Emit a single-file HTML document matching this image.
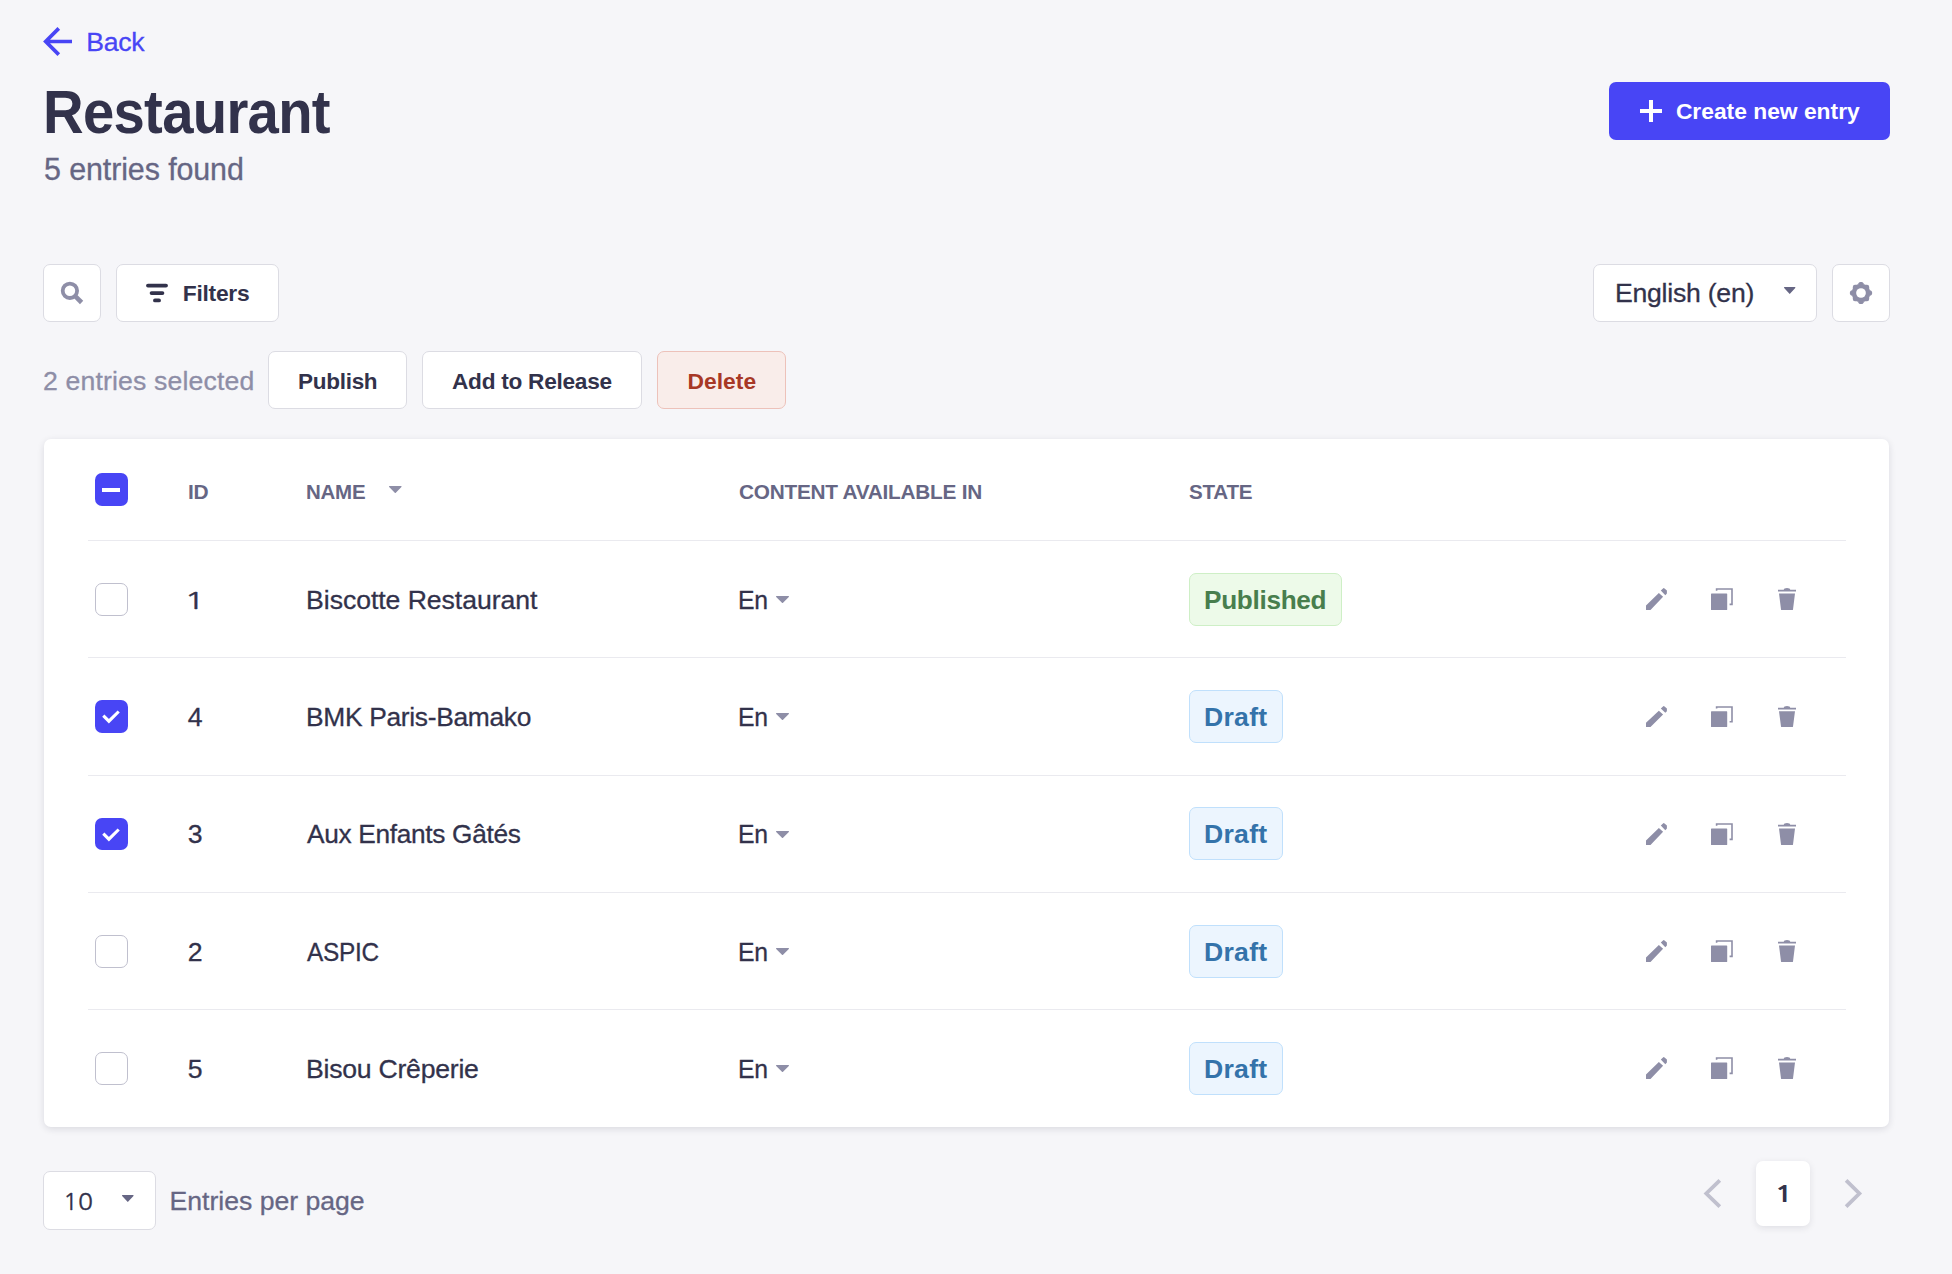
<!DOCTYPE html>
<html lang="en">
<head>
<meta charset="utf-8">
<title>Restaurant</title>
<style>
*{box-sizing:border-box;margin:0;padding:0}
html,body{width:1952px;height:1274px;overflow:hidden;background:#f6f6f9}
body{position:relative;font-family:"Liberation Sans",sans-serif}
.t{position:absolute;transform-origin:0 0;white-space:pre;line-height:1;font-family:"Liberation Sans",sans-serif}
.b{position:absolute;border:1px solid #dcdce3;background:#fff;border-radius:7px}
.a{position:absolute}
svg{position:absolute;overflow:visible}
.card{position:absolute;left:44px;top:439px;width:1845px;height:688px;background:#fff;border-radius:7px;box-shadow:0 2px 7px rgba(33,33,52,.13)}
.hr{position:absolute;left:88px;width:1758px;height:1px;background:#eaeaef}
.cb{position:absolute;left:95px;width:33px;height:33px;border-radius:7px;border:1.8px solid #c0c0ce;background:#fff}
.cb.on{border:0;background:#4845f5}
.r{-webkit-text-stroke:.3px}

</style>
</head>
<body>
<!-- back arrow -->
<svg style="left:0;top:0" width="1952" height="1274" viewBox="0 0 1952 1274">
  <g fill="none" stroke="#4845f5" stroke-width="3.7">
    <path d="M72 41.500H46.500M58.800 28.400 45.700 41.500l13.100 13.100"/>
  </g>
</svg>

<!-- create button -->
<div class="a" style="left:1609px;top:82px;width:281px;height:58px;background:#4845f5;border-radius:7px"></div>
<svg style="left:1640px;top:100px" width="22" height="22" viewBox="0 0 22 22"><path d="M0 11h22M11 0v22" stroke="#fff" stroke-width="4" fill="none"/></svg>

<!-- search + filters -->
<div class="b" style="left:43px;top:264px;width:58px;height:58px"></div>
<svg style="left:56px;top:277px" width="32" height="32" viewBox="56 277 32 32"><circle cx="69.9" cy="290.8" r="7.2" fill="none" stroke="#8e8ea7" stroke-width="3.8"/><path d="M75.2 296.1 81.6 302.5" stroke="#8e8ea7" stroke-width="4.6" fill="none"/></svg>
<div class="b" style="left:116px;top:264px;width:163px;height:58px"></div>
<svg style="left:140px;top:280px" width="32" height="28" viewBox="140 280 32 28"><path d="M148 285.6h18M151.6 293.1h10.8M155 300.4h4" stroke="#32324b" stroke-width="3.9" stroke-linecap="round" fill="none"/></svg>

<!-- locale select + settings -->
<div class="b" style="left:1593px;top:264px;width:224px;height:58px"></div>
<svg style="left:1783.7px;top:287.2px" width="11.4" height="6.9" viewBox="0 0 12 7.5" preserveAspectRatio="none"><path d="M.6 0h10.8a.6.6 0 0 1 .45 1L6.5 7.2a.66.66 0 0 1-1 0L.15 1A.6.6 0 0 1 .6 0z" fill="#666684"/></svg>
<div class="b" style="left:1832px;top:264px;width:58px;height:58px"></div>
<svg style="left:1850px;top:281.85px" width="22" height="22" viewBox="-11 -11 22 22"><g fill="#8e8ea7"><rect x="-8.2" y="-8.2" width="16.4" height="16.4" rx="2.2"/><rect x="-2.5" y="-11.1" width="5" height="6" rx="1.9" transform="rotate(0)"/><rect x="-2.5" y="-11.1" width="5" height="6" rx="1.9" transform="rotate(90)"/><rect x="-2.5" y="-11.1" width="5" height="6" rx="1.9" transform="rotate(180)"/><rect x="-2.5" y="-11.1" width="5" height="6" rx="1.9" transform="rotate(270)"/><path d="M-4.2-8.2-2.500-9.400h5L4.200-8.200zM-4.200 8.200-2.500 9.400h5L4.200 8.200zM-8.200-4.200-9.400-2.500v5L-8.200 4.200zM8.200-4.200 9.400-2.500v5L8.200 4.200z"/></g><circle r="4.85" fill="#fff"/></svg>

<!-- bulk action buttons -->
<div class="b" style="left:268px;top:351px;width:139px;height:58px"></div>
<div class="b" style="left:422px;top:351px;width:220px;height:58px"></div>
<div class="b" style="left:657px;top:351px;width:129px;height:58px;background:#f9edea;border-color:#edc2ba"></div>

<!-- table card -->
<div class="card"></div>
<div class="hr" style="top:540px"></div>
<div class="hr" style="top:657px"></div>
<div class="hr" style="top:775px"></div>
<div class="hr" style="top:892px"></div>
<div class="hr" style="top:1009px"></div>

<!-- header checkbox (indeterminate) -->
<div class="cb on" style="top:473px"></div>
<div class="a" style="left:102px;top:488px;width:18px;height:4px;background:#fff"></div>
<!-- header sort caret -->
<svg style="left:388.7px;top:486.2px" width="12.6" height="7" viewBox="0 0 12 7.5" preserveAspectRatio="none"><path d="M.6 0h10.8a.6.6 0 0 1 .45 1L6.5 7.2a.66.66 0 0 1-1 0L.15 1A.6.6 0 0 1 .6 0z" fill="#8e8ea7"/></svg>

<div class="cb" style="top:583.0px"></div>
<svg style="left:776px;top:596.05px" width="13" height="7" viewBox="0 0 12 7.5" preserveAspectRatio="none"><path d="M.6 0h10.800a.6.600 0 0 1 .450 1L6.500 7.200a.660.660 0 0 1-1 0L.150 1A.6.600 0 0 1 .6 0z" fill="#8e8ea7"/></svg>
<div class="b" style="left:1189px;top:573.0px;width:153px;height:53px;background:#edfae9;border-color:#ceefc6"></div>
<svg style="left:1646px;top:587.8px" width="21" height="22" viewBox="0 0 21 22"><path fill="#8e8ea7" d="M0 22V17.450L12.850 4.950 17.100 8.850 4.500 22zM14.800 2.500 17.300.150a.7.700 0 0 1 .9 0L20.900 2.600V5.400L19.300 7.200z"/></svg>
<svg style="left:1711px;top:588.0px" width="22" height="22" viewBox="0 0 22 22"><path fill="#8e8ea7" d="M.6 5.400h15a.6.600 0 0 1 .6.600v15.400a.6.600 0 0 1-.6.600H.6a.6.600 0 0 1-.6-.6V6a.6.600 0 0 1 .6-.6z"/><path fill="none" stroke="#8e8ea7" stroke-width="1.600" d="M5.600 2.700V1h15.400v15.400h-2.400"/></svg>
<svg style="left:1778px;top:588.0px" width="18" height="22" viewBox="0 0 18 22"><path fill="#8e8ea7" d="M0 1.800h5.800a3.200 1.800 0 0 1 6.400 0H18v1.800H0zM1 5.400h16L15 21.400a.7.700 0 0 1-.7.600H3.700a.7.700 0 0 1-.7-.6z"/></svg>
<div class="cb on" style="top:700.0px"></div>
<svg style="left:95px;top:700.0px" width="33" height="33" viewBox="0 0 33 33"><path d="M8.300 15.600 13.900 21.200 23.700 11.500" fill="none" stroke="#fff" stroke-width="3.100"/></svg>
<svg style="left:776px;top:713.05px" width="13" height="7" viewBox="0 0 12 7.5" preserveAspectRatio="none"><path d="M.6 0h10.800a.6.600 0 0 1 .450 1L6.500 7.200a.660.660 0 0 1-1 0L.150 1A.6.600 0 0 1 .6 0z" fill="#8e8ea7"/></svg>
<div class="b" style="left:1189px;top:690.0px;width:94px;height:53px;background:#ecf5fe;border-color:#c0e0fc"></div>
<svg style="left:1646px;top:705.9px" width="21" height="21" preserveAspectRatio="none" viewBox="0 0 21 22"><path fill="#8e8ea7" d="M0 22V17.450L12.850 4.950 17.100 8.850 4.500 22zM14.800 2.500 17.300.150a.7.700 0 0 1 .9 0L20.900 2.600V5.400L19.300 7.200z"/></svg>
<svg style="left:1711px;top:705.9px" width="22" height="21" preserveAspectRatio="none" viewBox="0 0 22 22"><path fill="#8e8ea7" d="M.6 5.400h15a.6.600 0 0 1 .6.600v15.400a.6.600 0 0 1-.6.600H.6a.6.600 0 0 1-.6-.6V6a.6.600 0 0 1 .6-.6z"/><path fill="none" stroke="#8e8ea7" stroke-width="1.600" d="M5.600 2.700V1h15.400v15.400h-2.400"/></svg>
<svg style="left:1778px;top:705.9px" width="18" height="21" preserveAspectRatio="none" viewBox="0 0 18 22"><path fill="#8e8ea7" d="M0 1.800h5.800a3.200 1.800 0 0 1 6.400 0H18v1.800H0zM1 5.400h16L15 21.400a.7.700 0 0 1-.7.600H3.700a.7.700 0 0 1-.7-.6z"/></svg>
<div class="cb on" style="top:818px;height:32px"></div>
<svg style="left:95px;top:817.5px" width="33" height="33" viewBox="0 0 33 33"><path d="M8.300 15.600 13.900 21.200 23.700 11.500" fill="none" stroke="#fff" stroke-width="3.100"/></svg>
<svg style="left:776px;top:830.55px" width="13" height="7" viewBox="0 0 12 7.5" preserveAspectRatio="none"><path d="M.6 0h10.800a.6.600 0 0 1 .450 1L6.500 7.200a.660.660 0 0 1-1 0L.150 1A.6.600 0 0 1 .6 0z" fill="#8e8ea7"/></svg>
<div class="b" style="left:1189px;top:807px;width:94px;height:53px;background:#ecf5fe;border-color:#c0e0fc"></div>
<svg style="left:1646px;top:822.9px" width="21" height="22" viewBox="0 0 21 22"><path fill="#8e8ea7" d="M0 22V17.450L12.850 4.950 17.100 8.850 4.500 22zM14.800 2.500 17.300.150a.7.700 0 0 1 .9 0L20.900 2.600V5.400L19.300 7.200z"/></svg>
<svg style="left:1711px;top:822.9px" width="22" height="22" viewBox="0 0 22 22"><path fill="#8e8ea7" d="M.6 5.400h15a.6.600 0 0 1 .6.600v15.400a.6.600 0 0 1-.6.600H.6a.6.600 0 0 1-.6-.6V6a.6.600 0 0 1 .6-.6z"/><path fill="none" stroke="#8e8ea7" stroke-width="1.600" d="M5.600 2.700V1h15.400v15.400h-2.400"/></svg>
<svg style="left:1778px;top:822.9px" width="18" height="22" viewBox="0 0 18 22"><path fill="#8e8ea7" d="M0 1.800h5.800a3.200 1.800 0 0 1 6.400 0H18v1.800H0zM1 5.400h16L15 21.400a.7.700 0 0 1-.7.600H3.700a.7.700 0 0 1-.7-.6z"/></svg>
<div class="cb" style="top:935px"></div>
<svg style="left:776px;top:948.05px" width="13" height="7" viewBox="0 0 12 7.5" preserveAspectRatio="none"><path d="M.6 0h10.800a.6.600 0 0 1 .450 1L6.500 7.200a.660.660 0 0 1-1 0L.150 1A.6.600 0 0 1 .6 0z" fill="#8e8ea7"/></svg>
<div class="b" style="left:1189px;top:925px;width:94px;height:53px;background:#ecf5fe;border-color:#c0e0fc"></div>
<svg style="left:1646px;top:939.8px" width="21" height="22" viewBox="0 0 21 22"><path fill="#8e8ea7" d="M0 22V17.450L12.850 4.950 17.100 8.850 4.500 22zM14.800 2.500 17.300.150a.7.700 0 0 1 .9 0L20.900 2.600V5.400L19.300 7.200z"/></svg>
<svg style="left:1711px;top:940px" width="22" height="22" viewBox="0 0 22 22"><path fill="#8e8ea7" d="M.6 5.400h15a.6.600 0 0 1 .6.600v15.400a.6.600 0 0 1-.6.600H.6a.6.600 0 0 1-.6-.6V6a.6.600 0 0 1 .6-.6z"/><path fill="none" stroke="#8e8ea7" stroke-width="1.600" d="M5.600 2.700V1h15.400v15.400h-2.400"/></svg>
<svg style="left:1778px;top:940px" width="18" height="22" viewBox="0 0 18 22"><path fill="#8e8ea7" d="M0 1.800h5.800a3.200 1.800 0 0 1 6.400 0H18v1.800H0zM1 5.400h16L15 21.400a.7.700 0 0 1-.7.600H3.700a.7.700 0 0 1-.7-.6z"/></svg>
<div class="cb" style="top:1052px"></div>
<svg style="left:776px;top:1065.05px" width="13" height="7" viewBox="0 0 12 7.5" preserveAspectRatio="none"><path d="M.6 0h10.800a.6.600 0 0 1 .450 1L6.500 7.200a.660.660 0 0 1-1 0L.150 1A.6.600 0 0 1 .6 0z" fill="#8e8ea7"/></svg>
<div class="b" style="left:1189px;top:1042px;width:94px;height:53px;background:#ecf5fe;border-color:#c0e0fc"></div>
<svg style="left:1646px;top:1056.8px" width="21" height="22" viewBox="0 0 21 22"><path fill="#8e8ea7" d="M0 22V17.450L12.850 4.950 17.100 8.850 4.500 22zM14.800 2.500 17.300.150a.7.700 0 0 1 .9 0L20.900 2.600V5.400L19.300 7.200z"/></svg>
<svg style="left:1711px;top:1057px" width="22" height="22" viewBox="0 0 22 22"><path fill="#8e8ea7" d="M.6 5.400h15a.6.600 0 0 1 .6.600v15.400a.6.600 0 0 1-.6.600H.6a.6.600 0 0 1-.6-.6V6a.6.600 0 0 1 .6-.6z"/><path fill="none" stroke="#8e8ea7" stroke-width="1.600" d="M5.600 2.700V1h15.400v15.400h-2.400"/></svg>
<svg style="left:1778px;top:1057px" width="18" height="22" viewBox="0 0 18 22"><path fill="#8e8ea7" d="M0 1.800h5.800a3.200 1.800 0 0 1 6.400 0H18v1.800H0zM1 5.400h16L15 21.400a.7.700 0 0 1-.7.600H3.700a.7.700 0 0 1-.7-.6z"/></svg>

<!-- footer -->
<div class="b" style="left:43px;top:1171px;width:113px;height:58.5px"></div>
<svg style="left:121.9px;top:1195.2px" width="11.6" height="6.9" viewBox="0 0 12 7.5" preserveAspectRatio="none"><path d="M.6 0h10.8a.6.6 0 0 1 .45 1L6.5 7.2a.66.66 0 0 1-1 0L.15 1A.6.6 0 0 1 .6 0z" fill="#666684"/></svg>
<svg style="left:1700px;top:1175px" width="26" height="38" viewBox="1700 1175 26 38"><path d="M1719.800 1180.300 1706.300 1193.500l13.500 13.200" fill="none" stroke="#c0c0ce" stroke-width="3.800"/></svg>
<div class="a" style="left:1756px;top:1161px;width:54px;height:65px;background:#fff;border-radius:7px;box-shadow:0 2px 7px rgba(33,33,52,.1)"></div>
<svg style="left:1840px;top:1175px" width="26" height="38" viewBox="1840 1175 26 38"><path d="M1846.100 1180.300 1859.400 1193.500l-13.300 13.200" fill="none" stroke="#c0c0ce" stroke-width="3.800"/></svg>

<span class="t r" id="back" style="left:86.25px;top:28.60px;font-size:26.64px;font-weight:400;color:#4845f5;letter-spacing:-0.32px">Back</span>
<span class="t" id="title" style="left:43.11px;top:82.10px;font-size:60.88px;font-weight:700;color:#32324b;letter-spacing:-0.731px;transform:scaleX(0.9235)">Restaurant</span>
<span class="t r" id="sub" style="left:44.00px;top:154.00px;font-size:30.44px;font-weight:400;color:#666684;letter-spacing:-0.107px">5 entries found</span>
<span class="t" id="filters" style="left:182.75px;top:281.75px;font-size:22.83px;font-weight:700;color:#32324b;letter-spacing:-0.274px">Filters</span>
<span class="t" id="create" style="left:1675.90px;top:100.40px;font-size:22.83px;font-weight:700;color:#ffffff;letter-spacing:-0.01px">Create new entry</span>
<span class="t r" id="locale" style="left:1615.00px;top:280.00px;font-size:26.64px;font-weight:400;color:#32324b;letter-spacing:-0.25px">English (en)</span>
<span class="t r" id="sel" style="left:43.10px;top:368.00px;font-size:26.64px;font-weight:400;color:#8e8ea7;letter-spacing:0.147px">2 entries selected</span>
<span class="t" id="publish" style="left:298.41px;top:369.75px;font-size:22.83px;font-weight:700;color:#32324b;letter-spacing:-0.274px;transform:scaleX(0.9853)">Publish</span>
<span class="t" id="addrel" style="left:451.51px;top:369.75px;font-size:22.83px;font-weight:700;color:#32324b;letter-spacing:-0.274px;transform:scaleX(0.9922)">Add to Release</span>
<span class="t" id="delete" style="left:687.50px;top:369.75px;font-size:22.83px;font-weight:700;color:#a83826;letter-spacing:0.02px">Delete</span>
<span class="t" id="h_id" style="left:188.00px;top:482.00px;font-size:20.93px;font-weight:700;color:#666684;letter-spacing:-0.251px">ID</span>
<span class="t" id="h_name" style="left:306.27px;top:482.00px;font-size:20.93px;font-weight:700;color:#666684;letter-spacing:-0.251px;transform:scaleX(0.9788)">NAME</span>
<span class="t" id="h_cont" style="left:738.51px;top:482.00px;font-size:20.93px;font-weight:700;color:#666684;letter-spacing:-0.251px;transform:scaleX(0.9938)">CONTENT AVAILABLE IN</span>
<span class="t" id="h_state" style="left:1188.52px;top:482.00px;font-size:20.93px;font-weight:700;color:#666684;letter-spacing:-0.251px;transform:scaleX(0.9841)">STATE</span>
<span class="t" id="ten" style="left:63.14px;top:1190.00px;font-size:23.47px;font-weight:400;color:#32324b;transform:scaleX(1.0542);-webkit-text-stroke:0.3px #32324b;font-family:NanumGothic,'Liberation Sans',sans-serif">10</span>
<span class="t r" id="epp" style="left:169.50px;top:1188.00px;font-size:26.64px;font-weight:400;color:#666684;letter-spacing:-0.017px">Entries per page</span>
<span class="t" id="pg1" style="left:1773.60px;top:1184.10px;font-size:21.76px;font-weight:700;color:#32324b;transform:scaleX(1.5000);font-family:NanumGothic,'Liberation Sans',sans-serif">1</span>
<span class="t r" id="r0id" style="left:184.25px;top:589.00px;font-size:23.73px;font-weight:400;color:#32324b;transform:scaleX(1.5000);font-family:NanumGothic,'Liberation Sans',sans-serif">1</span>
<span class="t r" id="r0nm" style="left:306.10px;top:587.00px;font-size:26.64px;font-weight:400;color:#32324b;letter-spacing:-0.061px">Biscotte Restaurant</span>
<span class="t r" id="r0en" style="left:738.14px;top:587.00px;font-size:26.64px;font-weight:400;color:#32324b;letter-spacing:-0.32px;transform:scaleX(0.9310)">En</span>
<span class="t" id="r0st" style="left:1204.03px;top:587.00px;font-size:26.64px;font-weight:700;color:#487e4d;letter-spacing:-0.32px;transform:scaleX(0.9835)">Published</span>
<span class="t r" id="r1id" style="left:187.75px;top:704.00px;font-size:26.64px;font-weight:400;color:#32324b">4</span>
<span class="t r" id="r1nm" style="left:306.12px;top:704.00px;font-size:26.64px;font-weight:400;color:#32324b;letter-spacing:-0.32px;transform:scaleX(0.9906)">BMK Paris-Bamako</span>
<span class="t r" id="r1en" style="left:738.14px;top:704.00px;font-size:26.64px;font-weight:400;color:#32324b;letter-spacing:-0.32px;transform:scaleX(0.9310)">En</span>
<span class="t" id="r1st" style="left:1204.00px;top:704.00px;font-size:26.64px;font-weight:700;color:#3473aa;letter-spacing:0.25px">Draft</span>
<span class="t r" id="r2id" style="left:187.75px;top:821.30px;font-size:26.64px;font-weight:400;color:#32324b">3</span>
<span class="t r" id="r2nm" style="left:307.25px;top:821.30px;font-size:26.64px;font-weight:400;color:#32324b;letter-spacing:-0.32px;transform:scaleX(0.9861)">Aux Enfants Gâtés</span>
<span class="t r" id="r2en" style="left:738.14px;top:821.30px;font-size:26.64px;font-weight:400;color:#32324b;letter-spacing:-0.32px;transform:scaleX(0.9310)">En</span>
<span class="t" id="r2st" style="left:1204.00px;top:821.30px;font-size:26.64px;font-weight:700;color:#3473aa;letter-spacing:0.25px">Draft</span>
<span class="t r" id="r3id" style="left:187.75px;top:939.00px;font-size:26.64px;font-weight:400;color:#32324b">2</span>
<span class="t r" id="r3nm" style="left:306.90px;top:939.00px;font-size:26.64px;font-weight:400;color:#32324b;letter-spacing:-0.32px;transform:scaleX(0.9156)">ASPIC</span>
<span class="t r" id="r3en" style="left:738.14px;top:939.00px;font-size:26.64px;font-weight:400;color:#32324b;letter-spacing:-0.32px;transform:scaleX(0.9310)">En</span>
<span class="t" id="r3st" style="left:1204.00px;top:939.00px;font-size:26.64px;font-weight:700;color:#3473aa;letter-spacing:0.25px">Draft</span>
<span class="t r" id="r4id" style="left:187.75px;top:1056.00px;font-size:26.64px;font-weight:400;color:#32324b">5</span>
<span class="t r" id="r4nm" style="left:306.10px;top:1056.00px;font-size:26.64px;font-weight:400;color:#32324b;letter-spacing:-0.258px">Bisou Crêperie</span>
<span class="t r" id="r4en" style="left:738.14px;top:1056.00px;font-size:26.64px;font-weight:400;color:#32324b;letter-spacing:-0.32px;transform:scaleX(0.9310)">En</span>
<span class="t" id="r4st" style="left:1204.00px;top:1056.00px;font-size:26.64px;font-weight:700;color:#3473aa;letter-spacing:0.25px">Draft</span>
</body>
</html>
